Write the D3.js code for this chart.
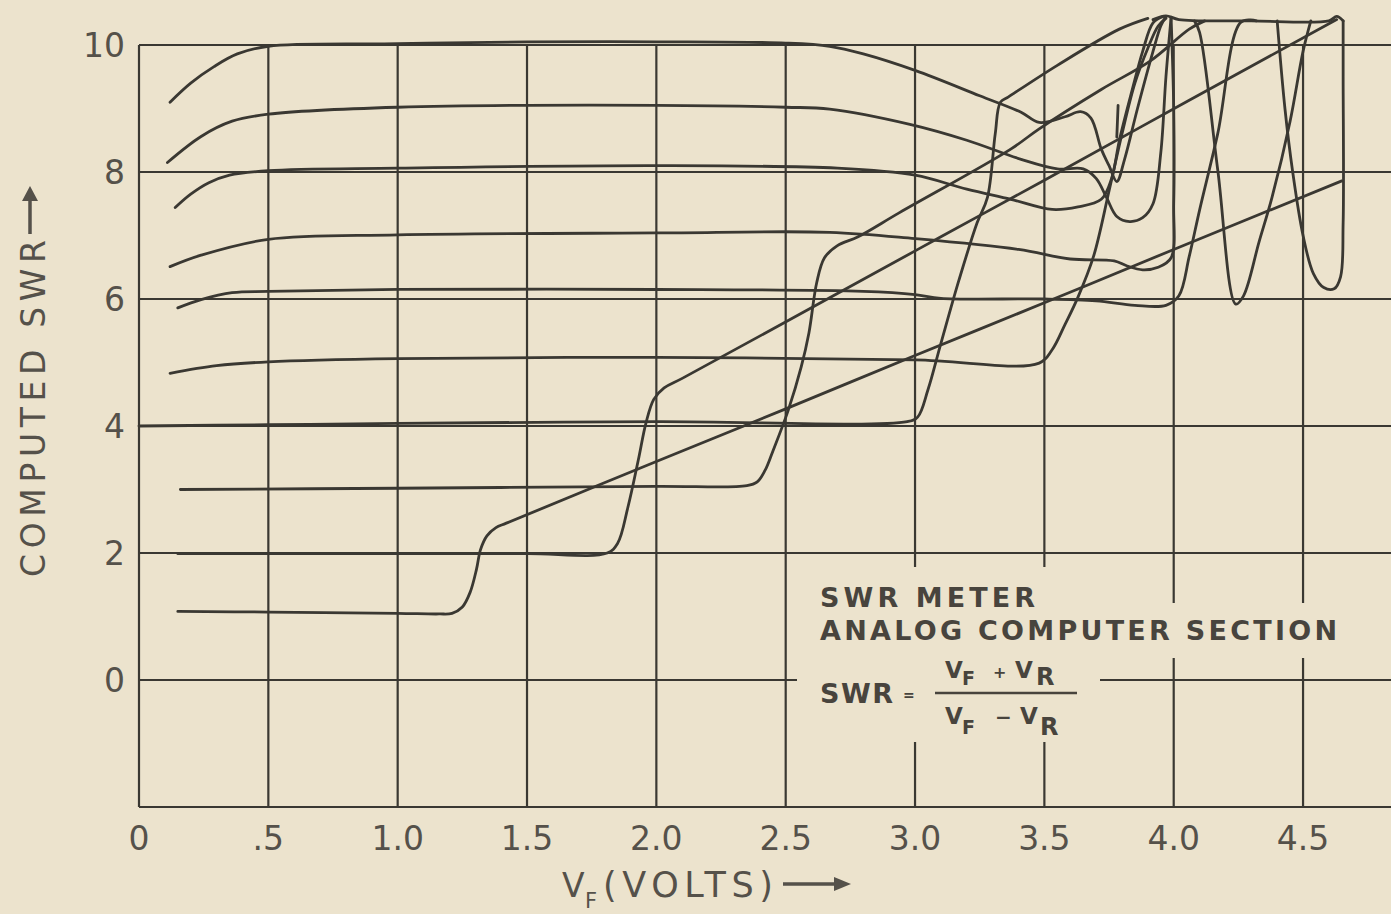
<!DOCTYPE html>
<html>
<head>
<meta charset="utf-8">
<script src="https://cdn.jsdelivr.net/npm/d3@7"></script>
<style>
  html, body { margin: 0; padding: 0; background: #ece3cd; }
  svg { display: block; }
</style>
</head>
<body>
<svg id="chart" width="1391" height="914"></svg>
<script>
// ---- Axis ticks ----
const xTicks = [0, 0.5, 1.0, 1.5, 2.0, 2.5, 3.0, 3.5, 4.0, 4.5];
const xTickLabels = ["0", ".5", "1.0", "1.5", "2.0", "2.5", "3.0", "3.5", "4.0", "4.5"];
const yTicks = [10, 8, 6, 4, 2, 0];
const yTickLabels = ["10", "8", "6", "4", "2", "0"];
const yGrid = [10, 8, 6, 4, 2, 0, -2];

// ---- Traces: [VF volts, computed SWR] ----
const swr1 = [[0.15,1.08],[0.5,1.07],[1.0,1.05],[1.16,1.04],[1.21,1.05],[1.25,1.15],[1.28,1.38],
  [1.305,1.75],[1.32,2.05],[1.345,2.27],[1.38,2.4],[1.42,2.47],[2.0,3.44],[2.5,4.27],[3.0,5.11],
  [3.5,5.94],[4.0,6.78],[4.65,7.86]];
const swr2 = [[0.15,1.99],[0.5,1.99],[1.0,1.99],[1.5,1.99],[1.81,2.0],[1.85,2.15],[1.89,2.72],
  [1.93,3.46],[1.96,4.05],[1.99,4.42],[2.03,4.6],[2.1,4.75],[2.67,6.02],[3.1,6.98],[3.5,7.87],
  [4.06,9.13],[4.63,10.4]];
const swr3 = [[0.16,3.0],[1.0,3.02],[2.0,3.05],[2.35,3.06],[2.39,3.12],[2.42,3.3],[2.45,3.6],
  [2.51,4.25],[2.56,4.93],[2.59,5.47],[2.62,6.26],[2.65,6.65],[2.7,6.84],[2.78,6.98],[2.94,7.36],
  [3.37,8.36],[3.48,8.68],[3.72,9.3],[3.91,9.75],[4.06,10.25],[4.12,10.38]];
const swr4 = [[0.0,4.0],[0.5,4.02],[1.0,4.04],[2.0,4.07],[2.97,4.07],[3.01,4.14],[3.05,4.57],
  [3.1,5.3],[3.17,6.3],[3.24,7.2],[3.28,7.6],[3.31,8.6],[3.33,9.1],[3.36,9.18],[3.55,9.68],
  [3.79,10.25],[3.9,10.42]];
const swr5 = [[0.12,4.83],[0.3,4.95],[0.5,5.01],[1.0,5.06],[2.0,5.08],[3.0,5.04],[3.48,4.99],
  [3.53,5.2],[3.58,5.6],[3.63,6.03],[3.69,6.67],[3.75,7.7],[3.8,8.6],[3.85,9.4],[3.9,9.95],
  [3.94,10.3],[3.97,10.42]];
const swr6 = [[0.15,5.86],[0.24,5.99],[0.36,6.1],[0.5,6.12],[1.0,6.15],[2.0,6.15],[2.8,6.12],
  [3.0,6.07],[3.1,6.01],[3.5,6.0],[3.7,5.97],[3.85,5.9],[3.97,5.9],[4.02,6.05],[4.06,6.67],
  [4.1,7.4],[4.17,8.6],[4.26,10.36],[4.32,10.38]];
const swr7 = [[0.12,6.51],[0.24,6.69],[0.5,6.94],[1.0,7.01],[2.0,7.04],[2.67,7.05],[3.0,6.95],
  [3.4,6.78],[3.6,6.63],[3.77,6.6],[3.82,6.52],[3.88,6.46],[3.94,6.5],[3.99,6.65],[4.0,7.5],
  [4.0,9.0],[3.99,10.42]];
const swr8 = [[0.14,7.44],[0.2,7.65],[0.27,7.83],[0.35,7.95],[0.5,8.02],[1.0,8.06],[2.0,8.1],
  [2.7,8.06],[3.0,7.95],[3.2,7.73],[3.37,7.57],[3.53,7.41],[3.63,7.45],[3.72,7.57],[3.76,7.9],
  [3.79,8.5],[3.84,9.3],[3.88,9.9],[3.92,10.35],[3.96,10.45]];
const swr9 = [[0.11,8.15],[0.24,8.56],[0.36,8.8],[0.5,8.91],[1.0,9.02],[2.0,9.05],[2.5,9.02],
  [2.67,8.99],[2.98,8.75],[3.2,8.5],[3.41,8.2],[3.55,8.05],[3.65,8.05],[3.7,7.9],[3.74,7.6],
  [3.78,7.3],[3.83,7.22],[3.88,7.28],[3.92,7.5],[3.95,8.3],[3.97,9.5],[3.99,10.44]];
const swr10 = [[0.12,9.1],[0.2,9.4],[0.29,9.66],[0.38,9.86],[0.5,9.98],[1.0,10.02],[1.5,10.05],
  [2.0,10.05],[2.5,10.03],[2.67,9.98],[2.8,9.86],[3.0,9.6],[3.25,9.2],[3.41,8.94],[3.48,8.78],
  [3.58,8.87],[3.64,8.95],[3.68,8.85],[3.72,8.36],[3.75,8.1],[3.78,7.85],[3.81,8.2],[3.86,9.0],
  [3.92,9.9],[3.95,10.3],[3.97,10.45]];
const topTrace = [[3.92,10.4],[3.97,10.46],[4.02,10.4],[4.3,10.38],[4.6,10.38],[4.63,10.45],[4.655,10.38]];
const zigTrace = [[4.08,10.38],[4.1,10.2],[4.17,8.04],[4.24,5.92],[4.27,6.05],[4.33,6.9],[4.38,7.6],
  [4.45,8.8],[4.5,9.9],[4.53,10.38]];
const loopTrace = [[4.4,10.38],[4.43,9.0],[4.46,8.0],[4.5,7.0],[4.54,6.4],[4.58,6.18],[4.62,6.16],
  [4.645,6.35],[4.655,7.2],[4.655,9.5],[4.655,10.38]];
const spikeTrace = [[3.78,8.55],[3.785,9.05]];

const traces = [swr1, swr2, swr3, swr4, swr5, swr6, swr7, swr8, swr9, swr10,
  topTrace, zigTrace, loopTrace, spikeTrace];

// ---- Layout ----
const svg = d3.select("#chart");
const W = 1391, H = 914;
const paper = "#ece3cd";
const ink = "#3a3832";
const textInk = "#55514a";

svg.append("rect").attr("width", W).attr("height", H).attr("fill", paper);

const x = d3.scaleLinear().domain([0, 4.84]).range([139, W]);
const y = d3.scaleLinear().domain([-2, 10]).range([807, 45]);

// Grid
const grid = svg.append("g").attr("stroke", ink).attr("stroke-width", 2.2).attr("fill", "none");
grid.selectAll("line.h").data(yGrid).join("line")
  .attr("class", "h")
  .attr("x1", x(0)).attr("x2", W)
  .attr("y1", d => y(d)).attr("y2", d => y(d));
grid.selectAll("line.v").data(xTicks).join("line")
  .attr("class", "v")
  .attr("x1", d => x(d)).attr("x2", d => x(d))
  .attr("y1", y(10)).attr("y2", y(-2));

// Knock-outs behind the annotation text
const ko = svg.append("g").attr("fill", paper);
ko.append("rect").attr("x", 797).attr("y", 567).attr("width", 303).attr("height", 175);
ko.append("rect").attr("x", 1100).attr("y", 603).attr("width", 250).attr("height", 55);

// Curves
const line = d3.line()
  .x(d => x(d[0])).y(d => y(d[1]))
  .curve(d3.curveCatmullRom.alpha(0.5));
svg.append("g")
  .selectAll("path").data(traces).join("path")
  .attr("d", line)
  .attr("fill", "none")
  .attr("stroke", ink)
  .attr("stroke-width", 2.8)
  .attr("stroke-linejoin", "round")
  .attr("stroke-linecap", "round");

// Tick labels
const font = "'DejaVu Sans', 'Liberation Sans', sans-serif";
svg.append("g").selectAll("text").data(xTicks).join("text")
  .attr("x", d => x(d)).attr("y", 850)
  .attr("text-anchor", "middle")
  .attr("font-family", font).attr("font-size", 33)
  .attr("fill", textInk)
  .text((d, i) => xTickLabels[i]);
svg.append("g").selectAll("text").data(yTicks).join("text")
  .attr("x", 125).attr("y", d => y(d) + 12)
  .attr("text-anchor", "end")
  .attr("font-family", font).attr("font-size", 33)
  .attr("fill", textInk)
  .text((d, i) => yTickLabels[i]);

// Y axis title with arrow
svg.append("text")
  .attr("transform", "translate(45,577) rotate(-90)")
  .attr("font-family", font).attr("font-size", 33)
  .attr("fill", textInk)
  .attr("textLength", 337).attr("lengthAdjust", "spacing")
  .text("COMPUTED SWR");
svg.append("line").attr("x1", 30).attr("x2", 30).attr("y1", 234).attr("y2", 198)
  .attr("stroke", textInk).attr("stroke-width", 3.5);
svg.append("path").attr("d", "M22,201 L30,186 L38,201 Z").attr("fill", textInk);

// X axis title with arrow
svg.append("text").attr("x", 562).attr("y", 897)
  .attr("font-family", font).attr("font-size", 33).attr("fill", textInk).text("V");
svg.append("text").attr("x", 585).attr("y", 908)
  .attr("font-family", font).attr("font-size", 21).attr("fill", textInk).text("F");
svg.append("text").attr("x", 603).attr("y", 897)
  .attr("font-family", font).attr("font-size", 35).attr("fill", textInk)
  .attr("textLength", 170).attr("lengthAdjust", "spacing").text("(VOLTS)");
svg.append("line").attr("x1", 783).attr("x2", 838).attr("y1", 884).attr("y2", 884)
  .attr("stroke", textInk).attr("stroke-width", 3.5);
svg.append("path").attr("d", "M834,877 L851,884 L834,891 Z").attr("fill", textInk);

// Annotation
const ann = svg.append("g").attr("font-family", font).attr("font-weight", "bold").attr("fill", "#48443d");
ann.append("text").attr("x", 820).attr("y", 607).attr("font-size", 27)
  .attr("textLength", 215).attr("lengthAdjust", "spacing").text("SWR METER");
ann.append("text").attr("x", 820).attr("y", 640).attr("font-size", 27)
  .attr("textLength", 517).attr("lengthAdjust", "spacing").text("ANALOG COMPUTER SECTION");
ann.append("text").attr("x", 820).attr("y", 703).attr("font-size", 27)
  .attr("textLength", 73).attr("lengthAdjust", "spacing").text("SWR");
ann.append("text").attr("x", 903).attr("y", 700).attr("font-size", 14).text("=");

// numerator  V_F + V_R
ann.append("text").attr("x", 945).attr("y", 678).attr("font-size", 23).text("V");
ann.append("text").attr("x", 962).attr("y", 685).attr("font-size", 19).text("F");
ann.append("text").attr("x", 993).attr("y", 678).attr("font-size", 16).text("+");
ann.append("text").attr("x", 1015).attr("y", 678).attr("font-size", 23).text("V");
ann.append("text").attr("x", 1036).attr("y", 685).attr("font-size", 24).text("R");
// fraction bar
svg.append("line").attr("x1", 935).attr("x2", 1077).attr("y1", 693).attr("y2", 693)
  .attr("stroke", "#48443d").attr("stroke-width", 2.6);
// denominator  V_F - V_R
ann.append("text").attr("x", 945).attr("y", 724).attr("font-size", 23).text("V");
ann.append("text").attr("x", 962).attr("y", 734).attr("font-size", 19).text("F");
ann.append("text").attr("x", 995).attr("y", 724).attr("font-size", 20).text("\u2212");
ann.append("text").attr("x", 1020).attr("y", 724).attr("font-size", 23).text("V");
ann.append("text").attr("x", 1040).attr("y", 735).attr("font-size", 24).text("R");
</script>
</body>
</html>
